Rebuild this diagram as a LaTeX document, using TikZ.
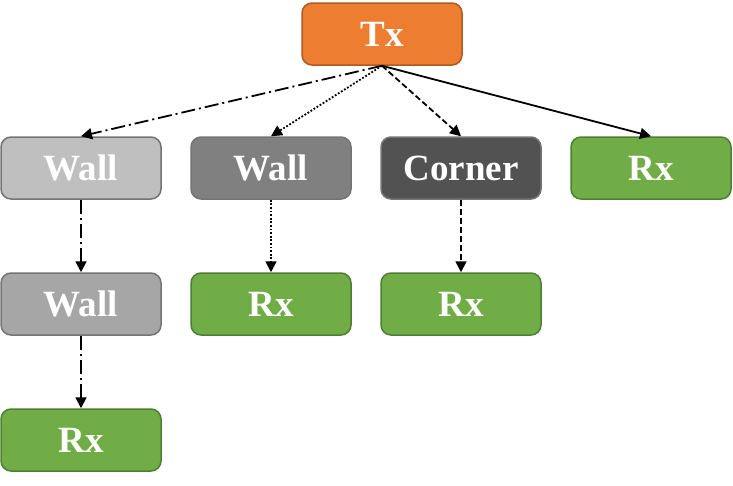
\documentclass[tikz,border=0pt]{standalone}
\usepackage{fontspec}
\setmainfont{Liberation Serif}
\usetikzlibrary{arrows.meta, positioning}
\definecolor{txfill}{HTML}{ED7D31}
\definecolor{txedge}{HTML}{AE5A21}
\definecolor{rxfill}{HTML}{70AD47}
\definecolor{rxedge}{HTML}{507E32}
\definecolor{edgegray}{HTML}{747474}

\begin{document}
\begin{tikzpicture}[x=1pt, y=1pt, node distance=72.5pt and 28.5pt,
    box/.style={draw, line width=1.5pt, rounded corners=10pt, minimum width=160pt,
                minimum height=62pt, inner sep=0pt, text=white,
                font=\fontsize{37}{42}\selectfont\bfseries},
    txbox/.style={box, fill=txfill, draw=txedge},
    rxbox/.style={box, fill=rxfill, draw=rxedge},
    graybox/.style={box, draw=edgegray},
    link/.style={-{Triangle[length=11pt, width=11pt]}, line width=1.8pt},
    dashdot/.style={link, dash pattern=on 14pt off 4pt on 2pt off 4pt},
    dots/.style={link, dash pattern=on 1.8pt off 1.8pt},
    dashes/.style={link, dash pattern=on 6pt off 3pt}]
    \useasboundingbox (0,0) rectangle (733,-485);

    \node[txbox] (tx) at (382,-34) {Tx};

    \node[graybox, fill=black!25] (walla) at (81,-168) {Wall};
    \node[graybox, fill=black!50, right=of walla] (wallb) {Wall};
    \node[graybox, fill=black!68, right=of wallb] (corner) {Corner};
    \node[rxbox, right=of corner] (rxa) {Rx};

    \node[graybox, fill=black!35, below=of walla] (wallc) {Wall};
    \node[rxbox, below=of wallb] (rxb) {Rx};
    \node[rxbox, below=of corner] (rxc) {Rx};
    \node[rxbox, below=of wallc] (rxd) {Rx};

    \draw[dashdot] (tx.south) -- (walla.north);
    \draw[dots]    (tx.south) -- (wallb.north);
    \draw[dashes]  (tx.south) -- (corner.north);
    \draw[link]    (tx.south) -- (rxa.north);

    \draw[dashdot] (walla) -- (wallc);
    \draw[dashdot] (wallc) -- (rxd);
    \draw[dots]    (wallb) -- (rxb);
    \draw[dashes]  (corner) -- (rxc);
\end{tikzpicture}
\end{document}
